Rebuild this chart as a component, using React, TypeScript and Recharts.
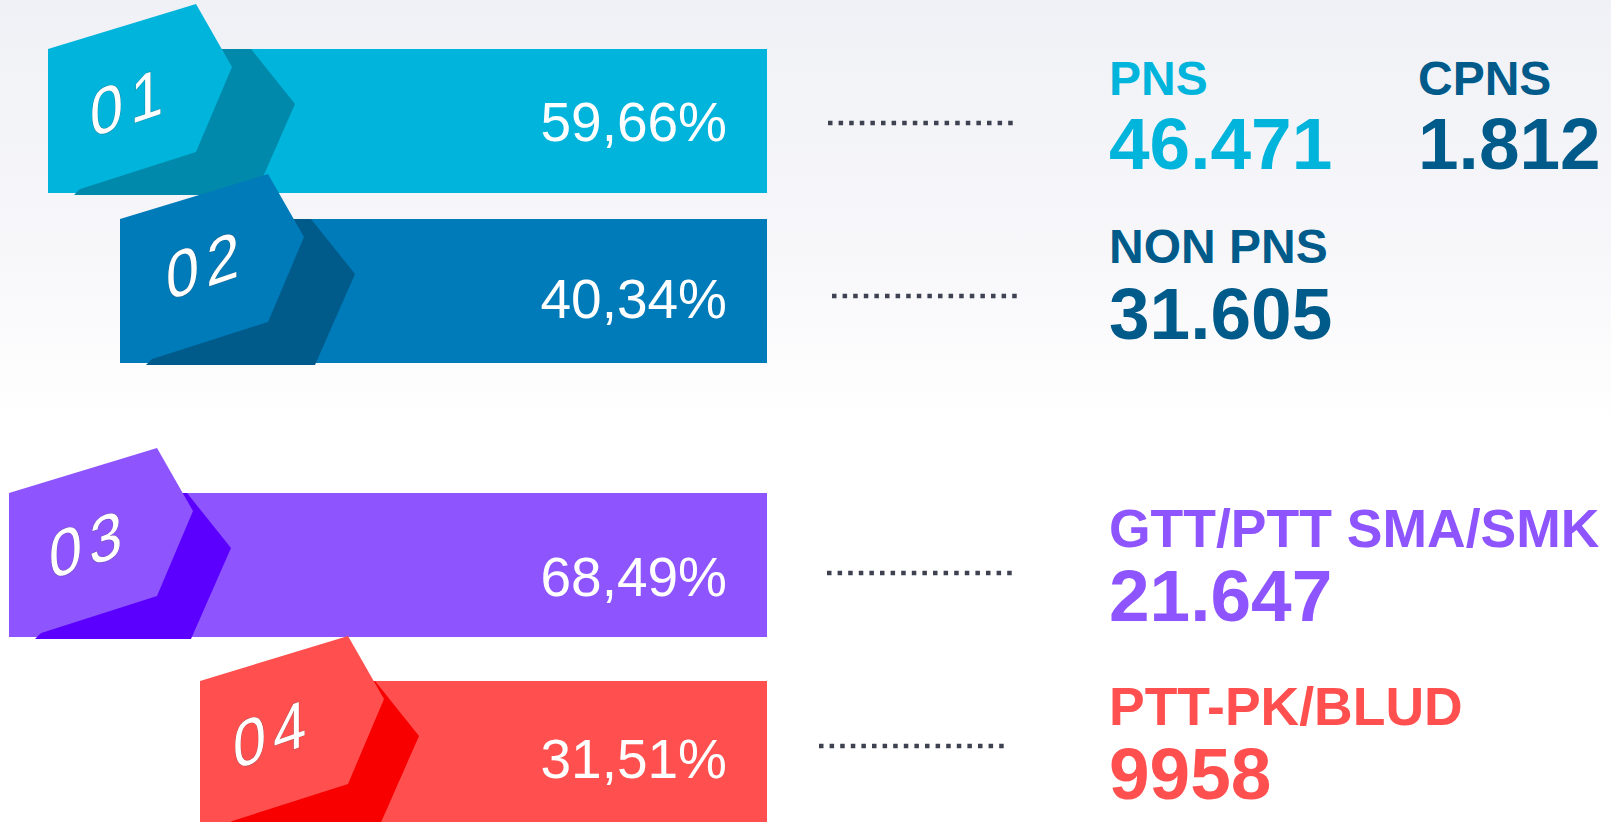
import React from "react";
import { BarChart, Bar, XAxis, YAxis } from "recharts";

// row data
const tags = ["01", "02", "03", "04"];
const shares = ["59,66%", "40,34%", "68,49%", "31,51%"];
const barStart = [48, 120, 9, 200];
const barEnd = 767;
const detailLabels = [["PNS", "CPNS"], ["NON PNS"], ["GTT/PTT SMA/SMK"], ["PTT-PK/BLUD"]];
const detailValues = [["46.471", "1.812"], ["31.605"], ["21.647"], ["9958"]];

// styles
const barColors = ["#00B4DC", "#007BBA", "#8E55FF", "#FF4F4F"];
const shadowColors = ["#0089AA", "#005B8A", "#5B00FF", "#F80000"];
const detailColors = [["#00B4DC", "#005B8A"], ["#005B8A"], ["#8E55FF"], ["#FF4F4F"]];

// per-row nudges, relative to the bar's top-left corner
const layout = [
  { tip: 247, numX: 42, numY: 89, pctY: 92, dotX: 828, dotY: 74, lblY: 46, valY: 120, lblSize: 48 },
  { tip: 235, numX: 46, numY: 82, pctY: 99, dotX: 832, dotY: 77, lblY: 44, valY: 120, lblSize: 48 },
  { tip: 222, numX: 40, numY: 87, pctY: 103, dotX: 827, dotY: 80, lblY: 54, valY: 128, lblSize: 53.5 },
  { tip: 219, numX: 33, numY: 89, pctY: 97, dotX: 819, dotY: 65, lblY: 44, valY: 118, lblSize: 53.5 },
];
const detailX = [1109, 1418];
const FONT = "'Liberation Sans', Arial, sans-serif";

const rows = tags.map((tag, i) => ({ tag, i, span: [barStart[i], barEnd], share: shares[i] }));

const pts = (list: number[][]) => list.map((p) => p.join(",")).join(" ");

const RowShape = (props: any) => {
  const { x, y, width, height, payload } = props;
  const i = payload.i;
  const L = layout[i];
  const tx = x + L.numX;
  const ty = y + L.numY;
  return (
    <g>
      <rect x={x} y={y} width={width} height={height} fill={barColors[i]} />
      <polygon
        fill={shadowColors[i]}
        points={pts([
          [x + 170, y],
          [x + L.tip - 44, y],
          [x + L.tip, y + 55],
          [x + L.tip - 40, y + height + 2],
          [x + 26, y + height + 2],
        ])}
      />
      <polygon
        fill={barColors[i]}
        points={pts([
          [x, y],
          [x + 148, y - 45],
          [x + 184, y + 18],
          [x + 148, y + 103],
          [x + 26, y + height - 2],
          [x, y + height],
        ])}
      />
      <text
        transform={`translate(${tx},${ty}) skewY(-19) scale(0.9,1)`}
        fontFamily={FONT}
        fontSize={66}
        letterSpacing={8}
        fill="#fff"
        stroke="#3a3a3a"
        strokeOpacity={0.45}
        strokeWidth={0.8}
        paintOrder="stroke"
      >
        {payload.tag}
      </text>
      <text x={727} y={y + L.pctY} textAnchor="end" fontFamily={FONT} fontSize={55} fill="#fff">
        {payload.share}
      </text>
      <line
        x1={L.dotX}
        x2={L.dotX + 190}
        y1={y + L.dotY}
        y2={y + L.dotY}
        stroke="#3D4150"
        strokeWidth={4.5}
        strokeDasharray="4.5 6.1"
      />
      {detailLabels[i].map((lbl, k) => (
        <g key={k} fontFamily={FONT} fontWeight="bold" fill={detailColors[i][k]}>
          <text x={detailX[k]} y={y + L.lblY} fontSize={L.lblSize}>
            {lbl}
          </text>
          <text x={detailX[k]} y={y + L.valY} fontSize={73}>
            {detailValues[i][k]}
          </text>
        </g>
      ))}
    </g>
  );
};

const Group = ({ data, top, marginTop, band }: { data: any[]; top: number; marginTop: number; band: number }) => (
  <div style={{ position: "absolute", left: 0, top }}>
    <BarChart
      width={1611}
      height={marginTop + band * data.length}
      data={data}
      layout="vertical"
      margin={{ top: marginTop, right: 0, bottom: 0, left: 0 }}
      style={{ overflow: "visible" }}
    >
      <XAxis type="number" domain={[0, 1611]} allowDataOverflow hide />
      <YAxis type="category" dataKey="tag" hide />
      <Bar dataKey="span" barSize={144} isAnimationActive={false} shape={(p: any) => <RowShape {...p} />} />
    </BarChart>
  </div>
);

export default function App() {
  return (
    <div
      style={{
        position: "fixed",
        left: 0,
        top: 0,
        width: 1611,
        height: 822,
        overflow: "hidden",
        background: "linear-gradient(#F0F1F6 0%, #F7F7FA 30%, #FFFFFF 52%)",
      }}
    >
      <Group data={rows.slice(0, 2)} top={0} marginTop={36} band={170} />
      <Group data={rows.slice(2)} top={376} marginTop={95} band={188} />
    </div>
  );
}
